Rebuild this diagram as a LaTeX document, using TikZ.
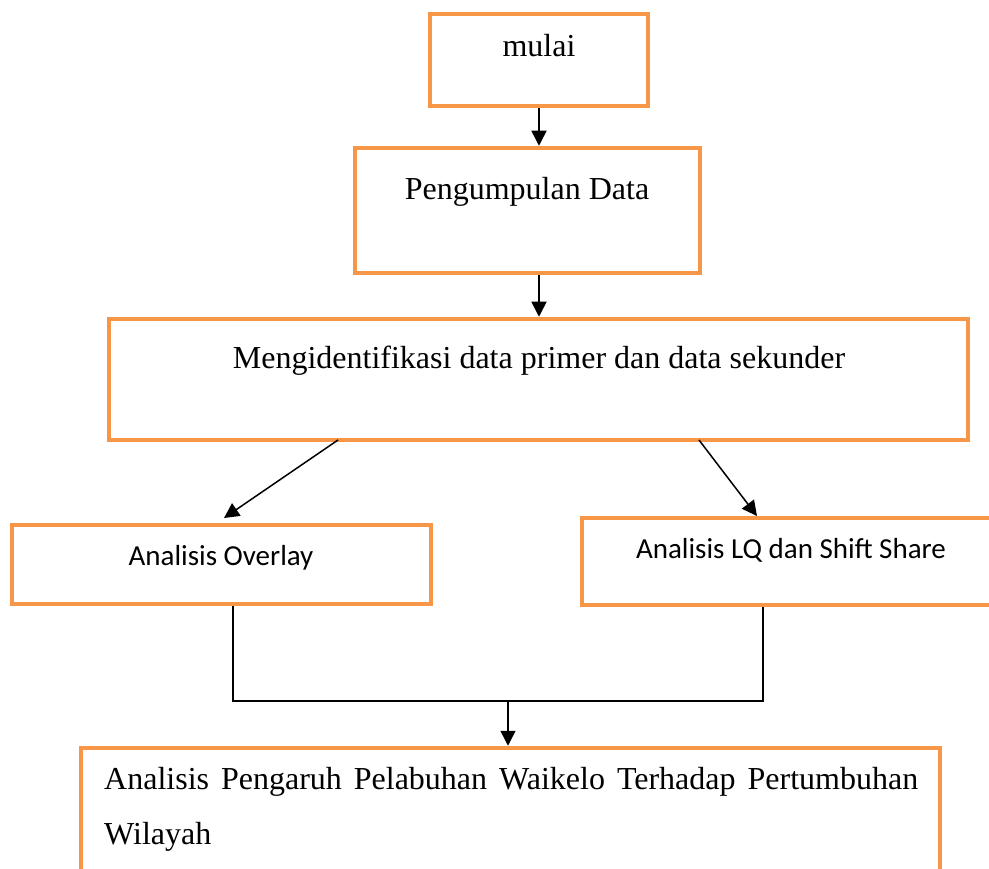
\documentclass[tikz,border=0pt]{standalone}
\usepackage{fontspec}
\setmainfont{Liberation Serif}
\newfontfamily\calibrifont{Carlito}
\usetikzlibrary{arrows.meta}

\begin{document}
\begin{tikzpicture}[x=1pt, y=-1pt,
    box/.style={draw=boxorange, line width=4.5pt, rectangle, inner sep=0pt},
    serif/.style={font=\fontsize{32}{51}\selectfont, inner sep=0pt, anchor=base},
    sans/.style={font=\calibrifont\fontsize{29}{36}\selectfont, inner sep=0pt, anchor=base},
    line/.style={line width=1.5pt},
    arr/.style={line width=1.5pt, -{Triangle[length=15pt, width=15pt]}}]
    % Define colors
    \definecolor{boxorange}{RGB}{247,150,70}

    \clip (0,0) rectangle (989,869);

    % Boxes
    \node[box, minimum width=218pt, minimum height=92pt] (mulai) at (539,60) {};
    \node[box, minimum width=345pt, minimum height=125pt] (pengumpulan) at (527.5,210.5) {};
    \node[box, minimum width=859pt, minimum height=121pt] (identifikasi) at (538.5,379.5) {};
    \node[box, minimum width=419pt, minimum height=79pt] (overlay) at (221.5,564.5) {};
    \node[box, minimum width=423pt, minimum height=87pt] (lq) at (793.5,561.5) {};
    \node[box, minimum width=859pt, minimum height=132pt] (pengaruh) at (510.5,814) {};

    % Texts
    \node[serif] (mulaiText) at (539,57) {mulai};
    \node[serif] (pengumpulanText) at (527,200) {Pengumpulan Data};
    \node[serif] (identifikasiText) at (539,369) {Mengidentifikasi data primer dan data sekunder};
    \node[sans] (overlayText) at (221,565) {Analisis Overlay};
    \node[sans] (lqText) at (791,558) {Analisis LQ dan Shift Share};
    \node[serif, anchor=base west] (pengaruhText) at (104,789)
        {\makebox[814pt][s]{Analisis Pengaruh Pelabuhan Waikelo Terhadap Pertumbuhan}};
    \node[serif, anchor=base west] (wilayahText) at (104,844) {Wilayah};

    % Connector points
    \coordinate (splitL) at (338,440);
    \coordinate (tipL) at (224,518);
    \coordinate (splitR) at (699,440);
    \coordinate (tipR) at (757,516);
    \coordinate (joinL) at (233,701);
    \coordinate (joinR) at (763,701);
    \coordinate (joinM) at (508,701);

    % Arrows
    \draw[arr] (mulai.south) -- (mulai.south |- pengumpulan.north);
    \draw[arr] (mulai.south |- pengumpulan.south) -- (mulai.south |- identifikasi.north);
    \draw[arr] (splitL) -- (tipL);
    \draw[arr] (splitR) -- (tipR);
    \draw[line] (overlay.south -| joinL) -- (joinL) -- (joinR) -- (lq.south -| joinR);
    \draw[arr] (joinM) -- (pengaruh.north -| joinM);
\end{tikzpicture}
\end{document}
